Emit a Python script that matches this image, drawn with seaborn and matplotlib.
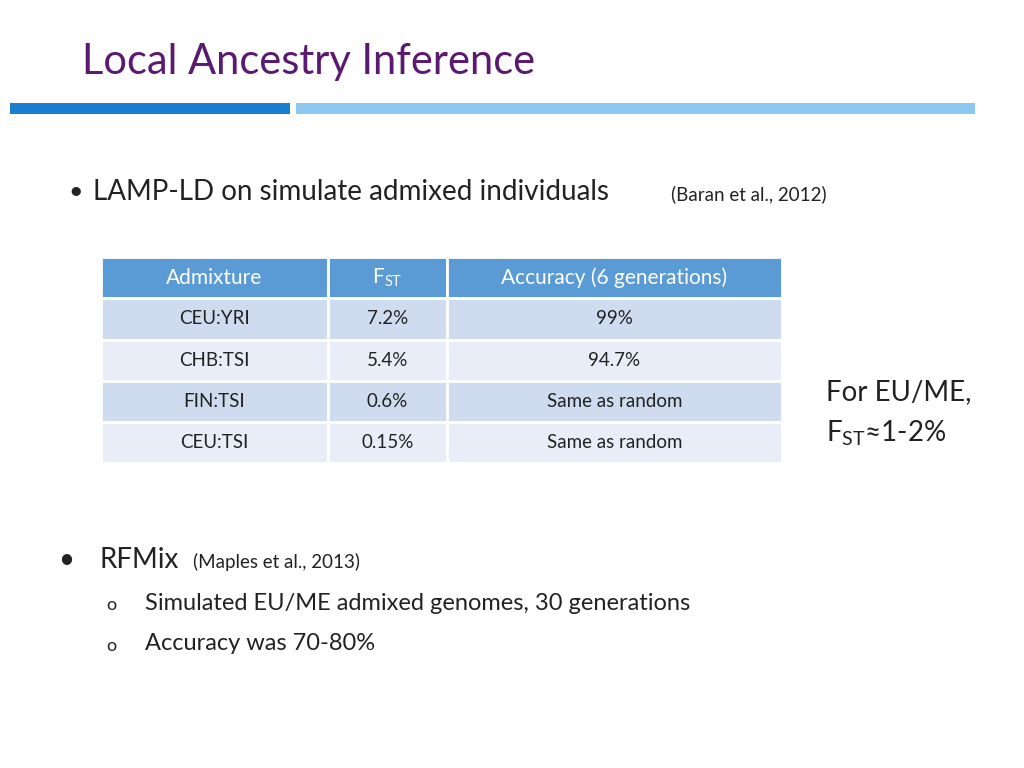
import matplotlib
matplotlib.use("Agg")
import matplotlib.pyplot as plt
import seaborn as sns
from matplotlib.patches import Rectangle

sns.set_theme(style="white")
FONT = "Lato"

headers = ["Admixture", "F$_{\\mathregular{ST}}$", "Accuracy (6 generations)"]
admixture = ["CEU:YRI", "CHB:TSI", "FIN:TSI", "CEU:TSI"]
fst = ["7.2%", "5.4%", "0.6%", "0.15%"]
accuracy = ["99%", "94.7%", "Same as random", "Same as random"]

col_edges = [101, 328, 447, 782]
row_edges = [257, 298, 340, 381, 422, 463]

fig = plt.figure(figsize=(10.24, 7.68), dpi=100)
ax = fig.add_axes([0, 0, 1, 1])
ax.set_xlim(0, 1024)
ax.set_ylim(768, 0)
ax.axis("off")

ax.text(82, 62, "Local Ancestry Inference", fontsize=30, color="#5a1a70",
        family=FONT, va="center", ha="left")
ax.add_patch(Rectangle((10, 103), 280, 11, color="#1a7fd0", lw=0))
ax.add_patch(Rectangle((296, 103), 679, 11, color="#8cc8f0", lw=0))

ax.text(68, 192, "•", fontsize=18, family=FONT, va="center", color="#222222")
ax.text(93, 192, "LAMP-LD on simulate admixed individuals", fontsize=20,
        family=FONT, va="center", color="#222222")
ax.text(671, 194, "(Baran et al., 2012)", fontsize=13.5, family=FONT,
        va="center", color="#222222")

cols = [admixture, fst, accuracy]
for r in range(5):
    y0, y1 = row_edges[r], row_edges[r + 1]
    for c in range(3):
        x0, x1 = col_edges[c], col_edges[c + 1]
        if r == 0:
            fc = "#5b9bd5"
            txt = headers[c]
            color = "white"
            fs = 15
        else:
            fc = "#cfdbee" if r % 2 == 1 else "#e8edf7"
            txt = cols[c][r - 1]
            color = "#222222"
            fs = 13.5
        ax.add_patch(Rectangle((x0, y0), x1 - x0, y1 - y0, facecolor=fc,
                               edgecolor="white", lw=2))
        ax.text((x0 + x1) / 2, (y0 + y1) / 2, txt, fontsize=fs, color=color,
                family=FONT, ha="center", va="center")

ax.text(826, 392, "For EU/ME,", fontsize=20, family=FONT, va="center",
        color="#222222")
ax.text(826, 433, "F$_{\\mathregular{ST}}$≈1-2%", fontsize=20, family=FONT,
        va="center", color="#222222")

ax.text(58, 560, "•", fontsize=20, family=FONT, va="center", color="#222222")
ax.text(100, 560, "RFMix", fontsize=20, family=FONT, va="center", color="#222222")
ax.text(193, 562, "(Maples et al., 2013)", fontsize=13.5, family=FONT,
        va="center", color="#222222")
ax.text(106, 605, "o", fontsize=13, family=FONT, va="center", color="#222222")
ax.text(145, 603, "Simulated EU/ME admixed genomes, 30 generations",
        fontsize=17, family=FONT, va="center", color="#222222")
ax.text(106, 646, "o", fontsize=13, family=FONT, va="center", color="#222222")
ax.text(145, 644, "Accuracy was 70-80%", fontsize=17, family=FONT,
        va="center", color="#222222")

fig.savefig("out.png", dpi=100, facecolor="white")
